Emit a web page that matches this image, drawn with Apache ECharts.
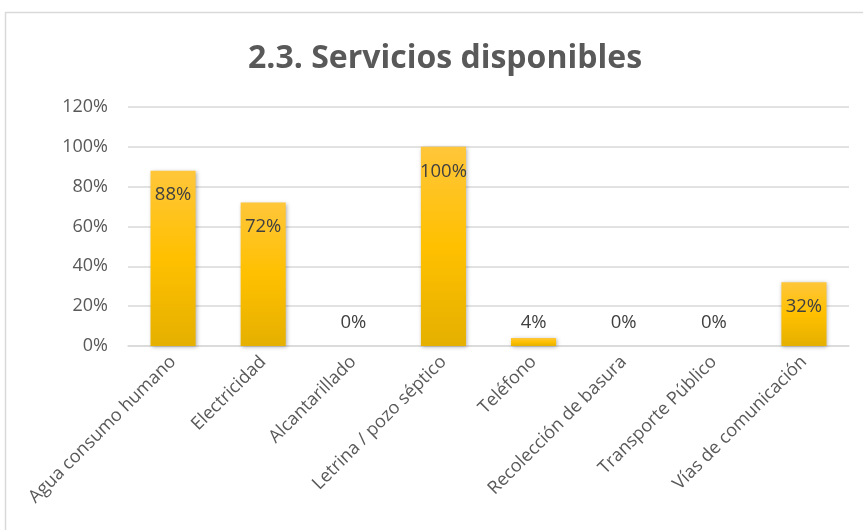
<!DOCTYPE html>
<html><head><meta charset="utf-8">
<script src="https://cdn.jsdelivr.net/npm/echarts@6/dist/echarts.min.js"></script>
<style>html,body{margin:0;padding:0;background:#fff}#c{width:863px;height:530px}</style>
</head><body><div id="c"></div>
<script>
const categories = ['Agua consumo humano','Electricidad','Alcantarillado','Letrina / pozo séptico','Teléfono','Recolección de basura','Transporte Público','Vías de comunicación'];
const values = [88, 72, 0, 100, 4, 0, 0, 32];
const yTicks = [0, 20, 40, 60, 80, 100, 120];
const outsideThreshold = 10;

const chart = echarts.init(document.getElementById('c'), null, {renderer:'canvas'});
const font = '"Open Sans", "Noto Sans", sans-serif';
const grad = new echarts.graphic.LinearGradient(0,0,0,1,[
  {offset:0,color:'#FFC63A'},{offset:0.5,color:'#FFC000'},{offset:1,color:'#E5B000'}]);
chart.setOption({
  animation:false,
  graphic:[{type:'rect',shape:{x:5.5,y:12.5,width:900,height:600},style:{fill:'none',stroke:'#d9d9d9',lineWidth:1.5},silent:true}],
  title:{text:'2.3. Servicios disponibles',left:243,top:38,
    textStyle:{fontFamily:font,fontWeight:'bold',fontSize:32,color:'#595959'}},
  grid:{left:128,right:14,top:107,bottom:184,containLabel:false},
  xAxis:{type:'category',data:categories,
    axisLine:{lineStyle:{color:'#d9d9d9',width:1.5}},axisTick:{show:false},
    axisLabel:{rotate:45,interval:0,fontFamily:font,fontSize:18,color:'#595959',margin:13}},
  yAxis:{type:'value',min:yTicks[0],max:yTicks[yTicks.length-1],interval:20,
    axisLine:{show:false},axisTick:{show:false},
    splitLine:{lineStyle:{color:'#d9d9d9',width:1.5}},
    axisLabel:{formatter:v=>v+'%',fontFamily:font,fontSize:18,color:'#595959',margin:20}},
  series:[{type:'bar',barWidth:'50%',
    data:values.map(v=>({value:v,label:{position:v<outsideThreshold?'top':'insideTop',distance:v<outsideThreshold?(v===0?14:6):15}})),
    itemStyle:{color:grad,shadowBlur:4,shadowColor:'rgba(0,0,0,0.3)',shadowOffsetX:1,shadowOffsetY:1},
    label:{show:true,formatter:p=>p.value+'%',fontFamily:font,fontSize:18.5,color:'#404040'}}]
});
</script></body></html>
